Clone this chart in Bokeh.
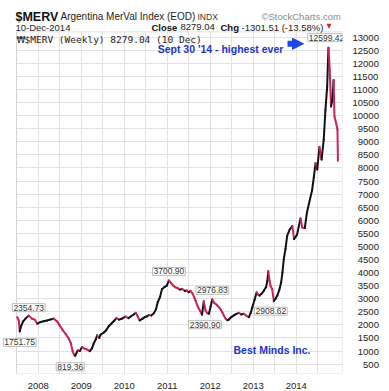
from bokeh.plotting import figure
from bokeh.models import (Label, Arrow, NormalHead, FixedTicker, Range1d,
                          ColumnDataSource, BoxAnnotation)
from bokeh.embed import file_html
from bokeh.resources import INLINE

# ---------------- data (decimal years, weekly close) -------------
dates = [
    2007.51, 2007.55, 2007.57, 2007.60, 2007.65, 2007.71, 2007.78, 2007.86, 2007.92, 2007.98,
    2008.05, 2008.13, 2008.21, 2008.29, 2008.36, 2008.44, 2008.50, 2008.57, 2008.64, 2008.71,
    2008.76, 2008.80, 2008.83, 2008.86, 2008.92, 2008.97, 2009.02, 2009.08, 2009.12, 2009.20,
    2009.25, 2009.29, 2009.34, 2009.37, 2009.42, 2009.45, 2009.52, 2009.58, 2009.64, 2009.70,
    2009.76, 2009.82, 2009.88, 2009.94, 2010.03, 2010.10, 2010.15, 2010.22, 2010.27, 2010.32,
    2010.36, 2010.42, 2010.47, 2010.53, 2010.58, 2010.63, 2010.69, 2010.74, 2010.78, 2010.83,
    2010.88, 2010.94, 2010.99, 2011.04, 2011.09, 2011.14, 2011.19, 2011.25, 2011.30, 2011.35,
    2011.41, 2011.46, 2011.50, 2011.54, 2011.59, 2011.63, 2011.66, 2011.71, 2011.76, 2011.81,
    2011.85, 2011.89, 2011.93, 2011.97, 2012.01, 2012.05, 2012.09, 2012.12, 2012.16, 2012.20,
    2012.24, 2012.28, 2012.32, 2012.36, 2012.40, 2012.43, 2012.49, 2012.55, 2012.61, 2012.67,
    2012.72, 2012.78, 2012.84, 2012.90, 2012.94, 2012.98, 2013.03, 2013.08, 2013.12, 2013.15,
    2013.20, 2013.25, 2013.30, 2013.33, 2013.35, 2013.38, 2013.40, 2013.44, 2013.48, 2013.52,
    2013.56, 2013.61, 2013.65, 2013.68, 2013.71, 2013.75, 2013.79, 2013.85, 2013.91, 2013.95,
    2014.02, 2014.10, 2014.14, 2014.20, 2014.25, 2014.32, 2014.37, 2014.41, 2014.45, 2014.49,
    2014.54, 2014.59, 2014.64, 2014.68, 2014.72, 2014.75, 2014.78, 2014.81, 2014.84, 2014.87,
    2014.89, 2014.93, 2014.96, 2014.97,
]
closes = [
    2300, 2170, 1752, 1950, 2134, 2250, 2355, 2235, 2200, 2045,
    2109, 2140, 2172, 2210, 2240, 2134, 1982, 1800, 1650, 1475,
    1300, 1000, 870, 819, 1032, 1000, 1158, 1090, 1070, 994,
    1100, 1285, 1450, 1602, 1500, 1627, 1700, 1792, 1950, 2045,
    2150, 2261, 2200, 2235, 2320, 2260, 2320, 2400, 2463, 2300,
    2172, 2230, 2290, 2330, 2380, 2362, 2450, 2600, 2870, 3050,
    3375, 3450, 3500, 3701, 3600, 3500, 3438, 3400, 3350, 3375,
    3300, 3311, 3250, 3300, 3200, 3050, 2931, 2700, 2551, 2391,
    2900, 2551, 2450, 2425, 2700, 2977, 2850, 2805, 2750, 2678,
    2600, 2488, 2350, 2235, 2180, 2200, 2300, 2361, 2420, 2463,
    2400, 2425, 2350, 2298, 2450, 2678, 2950, 3248, 3150, 3121,
    3200, 3311, 3450, 3692, 4050, 3700, 3501, 3375, 2909, 3000,
    3121, 3350, 3628, 4000, 4500, 4900, 5400, 5650, 5780, 5280,
    5450, 6070, 5720, 5700, 6300, 6800, 7150, 7650, 8190, 7940,
    8800, 8320, 9080, 10220, 11100, 12599, 11740, 10350, 10600, 11360,
    9970, 9710, 9460, 8279,
]

pivot_dates = [2007.78, 2007.57, 2008.86, 2011.04, 2012.05, 2011.81, 2013.48, 2014.75]
pivot_values = [2354.73, 1751.75, 819.36, 3700.90, 2976.83, 2390.90, 2908.62, 12599.42]

year_ticks = [2008, 2009, 2010, 2011, 2012, 2013, 2014]
half_year_ticks = [2007.5, 2008.5, 2009.5, 2010.5, 2011.5, 2012.5, 2013.5, 2014.5]
price_ticks = list(range(500, 13001, 500))

# ---------------- layout & styles ----------------
UP = "#111111"
DOWN = "#cc2255"
BLUE = "#2233cc"
SANS = "Liberation Sans"
GRID = "#e2e2e2"

W, H = 389, 391
FRAME_W, FRAME_H = 342, 375          # frame covers the canvas from its top-left corner
X0, X1 = 2007.1233, 2015.0767        # time at frame left / right
Y0, Y1 = 142.6, 14401.0              # price at frame bottom / top
BOX_LEFT, BOX_TOP = 2007.495, 13203  # the chart box inside the frame


def tx(px):  # screen x (from left) -> data x
    return X0 + (X1 - X0) * px / FRAME_W


def ty(py):  # screen y (from top) -> data y
    return Y1 - (Y1 - Y0) * py / FRAME_H


p = figure(width=W, height=H, output_backend="svg", toolbar_location=None,
           x_range=Range1d(X0, X1), y_range=Range1d(Y0, Y1),
           y_axis_location="right",
           min_border_left=0, min_border_top=0,
           min_border_right=W - FRAME_W, min_border_bottom=H - FRAME_H)
p.background_fill_color = "white"
p.border_fill_color = "white"
p.outline_line_color = None

# grid & axes
p.xaxis.ticker = FixedTicker(ticks=year_ticks, minor_ticks=half_year_ticks)
p.xgrid.grid_line_color = GRID
p.xgrid.minor_grid_line_color = GRID
p.xaxis.axis_line_color = None
p.xaxis.major_tick_line_color = None
p.xaxis.minor_tick_line_color = None
p.xaxis.major_label_standoff = 3
p.xaxis.major_label_text_font = SANS
p.xaxis.major_label_text_font_size = "9.5px"
p.xaxis.major_label_text_color = "#222222"

p.yaxis.ticker = FixedTicker(ticks=price_ticks)
p.yaxis.major_label_overrides = {t: "\u2007" * (5 - len(str(t))) + str(t) for t in price_ticks}
p.ygrid.grid_line_color = GRID
p.yaxis.axis_line_color = None
p.yaxis.major_tick_line_color = None
p.yaxis.minor_tick_line_color = None
p.yaxis.major_label_standoff = 4
p.yaxis.major_label_text_font = SANS
p.yaxis.major_label_text_font_size = "9.5px"
p.yaxis.major_label_text_color = "#222222"

# white margins of the image (inside the frame) and the chart box
p.add_layout(BoxAnnotation(right=BOX_LEFT, fill_color="white", fill_alpha=1,
                           line_alpha=0, level="underlay"))
p.add_layout(BoxAnnotation(bottom=BOX_TOP, fill_color="white", fill_alpha=1,
                           line_alpha=0, level="underlay"))
p.add_layout(BoxAnnotation(left=BOX_LEFT, top=BOX_TOP, fill_alpha=0,
                           line_color="#9a9a9a", line_width=1, level="underlay"))

# price path, coloured by direction
seg = dict(x0=dates[:-1], y0=closes[:-1], x1=dates[1:], y1=closes[1:],
           c=[UP if b >= a else DOWN for a, b in zip(closes[:-1], closes[1:])])
p.segment("x0", "y0", "x1", "y1", color="c", line_width=2, line_cap="round",
          source=ColumnDataSource(seg))

# pivot value boxes
offsets = [(0, 8), (0, -11), (-5, -11), (0, 9), (0, 9), (3, -10), (-3, -10), (-2, 10)]
for d, v, (dx, dy) in zip(pivot_dates, pivot_values, offsets):
    p.add_layout(Label(x=d, y=v, x_offset=dx, y_offset=dy, text=f"{v:.2f}",
                       text_font=SANS, text_font_size="8.5px", text_color="#333333",
                       text_align="center", text_baseline="middle",
                       background_fill_color="white", border_line_color="#bbbbbb",
                       padding=1))

# blue annotations
p.add_layout(Label(x=tx(220), y=ty(48.5), text="Sept 30 '14 - highest ever",
                   text_font=SANS, text_font_style="bold", text_font_size="10.5px",
                   text_color=BLUE, text_align="center", text_baseline="middle"))
p.add_layout(Arrow(x_start=tx(287), y_start=ty(43.5), x_end=tx(303), y_end=ty(43.5),
                   line_color="#1f45e6", line_width=6,
                   end=NormalHead(size=11, fill_color="#1f45e6", line_color="#1f45e6")))
p.add_layout(Label(x=tx(271.5), y=ty(351.5), text="Best Minds Inc.",
                   text_font=SANS, text_font_style="bold", text_font_size="10.5px",
                   text_color=BLUE, text_align="center", text_baseline="middle"))


# header texts
def hdr(text, sx, sy, size, bold=False, color="#222222", font=SANS):
    p.add_layout(Label(x=tx(sx), y=ty(sy), text=text, text_font=font, text_font_size=size,
                       text_font_style="bold" if bold else "normal",
                       text_color=color, text_baseline="alphabetic", text_align="left"))


hdr("$MERV", 15, 16.5, "12.5px", bold=True, color="#111111")
hdr("Argentina MerVal Index (EOD)", 60, 16.5, "10px")
hdr("INDX", 197, 16.5, "8.5px", color="#333333")
hdr("\u00a9StockCharts.com", 261, 16.5, "9.5px", color="#8a8a8a")
hdr("10-Dec-2014", 15, 27, "9.5px")
hdr("Close", 151, 27, "9.5px", bold=True, color="#111111")
hdr("8279.04", 180, 27, "9.5px")
hdr("Chg", 220, 27, "9.5px", bold=True, color="#111111")
hdr("-1301.51 (-13.58%)", 241, 27, "9.5px")
hdr("\u25bc", 326, 26, "6.5px", color="#cc2233", font="DejaVu Sans")
hdr("\u20a9", 16, 39.5, "9px", color="#111111", font="DejaVu Sans")
hdr("$MERV (Weekly) 8279.04 (10 Dec)", 24, 39.5, "9.5px", color="#222222",
    font="DejaVu Sans Mono")

open("out.html", "w").write(file_html(p, INLINE))
